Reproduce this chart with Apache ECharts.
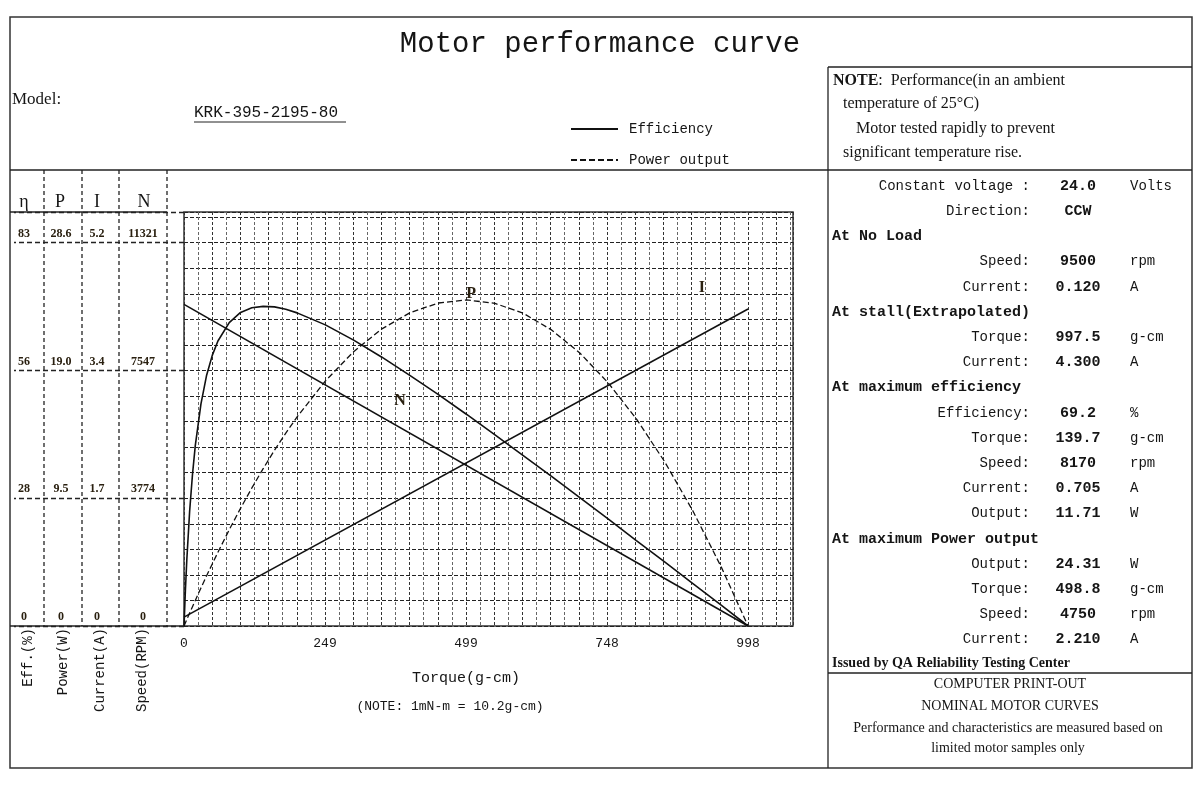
<!DOCTYPE html>
<html>
<head>
<meta charset="utf-8">
<title>Motor performance curve</title>
<script src="https://cdn.jsdelivr.net/npm/echarts@6/dist/echarts.min.js"></script>
<style>
html, body { margin: 0; padding: 0; background: #fff; }
#chart { width: 1200px; height: 791px; }
</style>
</head>
<body>
<div id="chart"></div>
<script>
// torque (g-cm) on x
const torque = [0, 2.5, 5, 10, 15, 20, 30, 40, 50, 60, 80, 100, 120, 140, 160, 180, 200, 250, 300, 350, 400, 450, 500, 550, 600, 650, 700, 750, 800, 850, 900, 950, 997.5];
const efficiency = [0, 7.8, 14.4, 24.9, 32.8, 39.1, 48.1, 54.3, 58.6, 61.7, 65.7, 67.9, 68.9, 69.2, 69.1, 68.6, 67.8, 65.2, 61.9, 58.2, 54.2, 50.1, 45.8, 41.4, 36.9, 32.4, 27.8, 23.2, 18.5, 13.9, 9.2, 4.5, 0];
const powerOut = [0, 0.24, 0.49, 0.97, 1.44, 1.91, 2.84, 3.75, 4.63, 5.50, 7.18, 8.78, 10.30, 11.74, 13.11, 14.39, 15.60, 18.28, 20.47, 22.17, 23.38, 24.10, 24.33, 24.07, 23.33, 22.09, 20.37, 18.15, 15.45, 12.26, 8.58, 4.41, 0];
const speedTorque = [0, 997.5];
const speedRpm = [9500, 0];
const currentTorque = [0, 997.5];
const currentAmp = [0.12, 4.3];

// axis tick labels
const xTickLabels = ['0', '249', '499', '748', '998'];
const effTicks = ['0', '28', '56', '83'];
const powerTicks = ['0', '9.5', '19.0', '28.6'];
const currentTicks = ['0', '1.7', '3.4', '5.2'];
const speedTicks = ['0', '3774', '7547', '11321'];
const effTop = 83, powerTop = 28.6, currentTop = 5.2, speedTop = 11321;
const xStep = 997.5 / 40;

// spec table on the right
const specRows = [
	['Constant voltage :', '24.0', 'Volts'],
	['Direction:', 'CCW', ''],
	['At No Load'],
	['Speed:', '9500', 'rpm'],
	['Current:', '0.120', 'A'],
	['At stall(Extrapolated)'],
	['Torque:', '997.5', 'g-cm'],
	['Current:', '4.300', 'A'],
	['At maximum efficiency'],
	['Efficiency:', '69.2', '%'],
	['Torque:', '139.7', 'g-cm'],
	['Speed:', '8170', 'rpm'],
	['Current:', '0.705', 'A'],
	['Output:', '11.71', 'W'],
	['At maximum Power output'],
	['Output:', '24.31', 'W'],
	['Torque:', '498.8', 'g-cm'],
	['Speed:', '4750', 'rpm'],
	['Current:', '2.210', 'A']
];

const MONO = '"Liberation Mono", monospace';
const SERIF = '"Liberation Serif", serif';
const INK = '#151515';

// grid height covers 16.2 cells, top tick label sits at 15 cells
const topScale = 16.2 / 15;

function labelAxis(top, ticks, margin, extra) {
	return Object.assign({
		type: 'value',
		position: 'left',
		min: 0,
		max: top * topScale,
		interval: top / 3,
		axisLine: { show: false },
		axisTick: { show: false },
		splitLine: { show: false },
		axisLabel: {
			formatter: (v, i) => ticks[i] || '',
			align: 'center',
			verticalAlign: 'bottom',
			margin: margin,
			padding: [0, 0, 3, 0],
			fontFamily: SERIF,
			fontWeight: 'bold',
			fontSize: 12,
			color: '#2a2010'
		}
	}, extra || {});
}

function line(x1, y1, x2, y2, dash, w) {
	return {
		type: 'line', silent: true, z: 10,
		shape: { x1: x1, y1: y1, x2: x2, y2: y2 },
		style: { stroke: '#222', lineWidth: w || 1.3, lineDash: dash || null }
	};
}
function text(x, y, str, font, align, extra) {
	return Object.assign({
		type: 'text', silent: true, z: 10, x: x, y: y,
		style: { text: str, font: font, fill: INK, align: align || 'left', verticalAlign: 'middle' }
	}, extra || {});
}

let graphics = [
	{ type: 'rect', silent: true, z: 10, shape: { x: 10, y: 17, width: 1182, height: 751 }, style: { fill: 'none', stroke: '#333', lineWidth: 1.5 } },
	line(828, 67, 1192, 67),
	line(828, 67, 828, 768),
	line(10, 170, 1192, 170),
	line(828, 673, 1192, 673),
	line(10, 212, 167, 212),
	line(10, 626, 184, 626),
	line(44, 170, 44, 626, [4, 3]),
	line(82, 170, 82, 626, [4, 3]),
	line(119, 170, 119, 626, [4, 3]),
	line(167, 170, 167, 626, [4, 3]),
	text(12, 100, 'Model:', '17px ' + SERIF),
	text(194, 113, 'KRK-395-2195-80', '16px ' + MONO),
	line(194, 122, 346, 122, null, 1),
	text(24, 202, 'η', '18px ' + SERIF, 'center'),
	text(60, 202, 'P', '18px ' + SERIF, 'center'),
	text(97, 202, 'I', '18px ' + SERIF, 'center'),
	text(144, 202, 'N', '18px ' + SERIF, 'center'),
	text(833, 81, '', '16px ' + SERIF, 'left', {
		style: { text: '{b|NOTE}:  Performance(in an ambient', font: '16px ' + SERIF, fill: INK, verticalAlign: 'middle',
			rich: { b: { font: 'bold 16px ' + SERIF, fill: INK } } }
	}),
	text(843, 104, 'temperature of 25°C)', '16px ' + SERIF),
	text(856, 129, 'Motor tested rapidly to prevent', '16px ' + SERIF),
	text(843, 153, 'significant temperature rise.', '16px ' + SERIF),
	text(466, 678, 'Torque(g-cm)', '15px ' + MONO, 'center'),
	text(450, 707, '(NOTE: 1mN-m = 10.2g-cm)', '13px ' + MONO, 'center'),
	text(832, 663, 'Issued by QA Reliability Testing Center', 'bold 14px ' + SERIF),
	text(1010, 684, 'COMPUTER PRINT-OUT', '14px ' + SERIF, 'center'),
	text(1010, 706, 'NOMINAL MOTOR CURVES', '14px ' + SERIF, 'center'),
	text(1008, 728, 'Performance and characteristics are measured based on', '14px ' + SERIF, 'center'),
	text(1008, 748, 'limited motor samples only', '14px ' + SERIF, 'center')
];

// rotated unit names under the left columns
[['Eff.(%)', 28], ['Power(W)', 63], ['Current(A)', 100], ['Speed(RPM)', 142]].forEach(item => {
	graphics.push(text(item[1], 628, item[0], '14px ' + MONO, 'right', { rotation: Math.PI / 2 }));
});

specRows.forEach((row, i) => {
	const y = 186 + i * 25.2;
	if (row.length === 1) {
		graphics.push(text(832, y, row[0], 'bold 15px ' + MONO));
		return;
	}
	graphics.push(text(1030, y, row[0], '14px ' + MONO, 'right'));
	graphics.push(text(1078, y, row[1], 'bold 15px ' + MONO, 'center'));
	if (row[2]) graphics.push(text(1130, y, row[2], '14px ' + MONO));
});

const tagLabel = name => ({
	show: true, formatter: name, color: '#2a2010',
	fontFamily: SERIF, fontWeight: 'bold', fontSize: 16
});

const option = {
	animation: false,
	backgroundColor: '#fff',
	color: ['#111'],
	title: {
		text: 'Motor performance curve',
		left: 'center',
		top: 25,
		textStyle: { fontFamily: MONO, fontSize: 29, fontWeight: 'normal', color: INK }
	},
	legend: {
		data: ['Efficiency', 'Power output'],
		orient: 'vertical',
		left: 565,
		top: 117,
		itemWidth: 47,
		itemHeight: 14,
		itemGap: 17,
		selectedMode: false,
		itemStyle: { opacity: 0 },
		textStyle: { fontFamily: MONO, fontSize: 14, color: INK, padding: [0, 0, 0, 6] }
	},
	grid: {
		left: 184, top: 212, width: 609, height: 414,
		show: true, borderColor: '#333', borderWidth: 1.5
	},
	xAxis: {
		type: 'value',
		min: 0,
		max: 1077,
		interval: xStep,
		axisLine: { show: false },
		axisTick: { show: false },
		splitLine: { show: true, lineStyle: { color: ['#333', '#666'], type: [3, 2], width: 1 } },
		axisLabel: {
			formatter: (v, i) => (i % 10 === 0 && xTickLabels[i / 10]) || '',
			margin: 11,
			fontFamily: MONO,
			fontSize: 13,
			color: INK
		}
	},
	yAxis: [
		labelAxis(effTop, effTicks, 160, {
			axisTick: { show: true, length: 170, lineStyle: { color: '#222', type: [5, 3], width: 1.3 } }
		}),
		labelAxis(powerTop, powerTicks, 123),
		labelAxis(currentTop, currentTicks, 87),
		labelAxis(speedTop, speedTicks, 41),
		{
			// horizontal cell grid
			type: 'value', position: 'left', min: 0, max: 16.2, interval: 1,
			axisLine: { show: false }, axisTick: { show: false }, axisLabel: { show: false },
			splitLine: { show: true, lineStyle: { color: '#222', type: [4, 2], width: 1 } }
		}
	],
	series: [
		{
			name: 'Efficiency', type: 'line', yAxisIndex: 0,
			data: torque.map((t, i) => [t, efficiency[i]]),
			symbol: 'none',
			lineStyle: { color: '#111', width: 1.6 }, z: 5
		},
		{
			name: 'Power output', type: 'line', yAxisIndex: 1,
			data: torque.map((t, i) => [t, powerOut[i]]),
			symbol: 'none',
			lineStyle: { color: '#111', width: 1.3, type: [6, 3] }, z: 5,
			markPoint: { silent: true, symbol: 'circle', symbolSize: 0, label: tagLabel('P'), data: [{ coord: [508, 24.8] }] }
		},
		{
			name: 'Speed', type: 'line', yAxisIndex: 3,
			data: speedTorque.map((t, i) => [t, speedRpm[i]]),
			symbol: 'none',
			lineStyle: { color: '#111', width: 1.6 }, z: 5,
			markPoint: { silent: true, symbol: 'circle', symbolSize: 0, label: tagLabel('N'), data: [{ coord: [382, 6646] }] }
		},
		{
			name: 'Current', type: 'line', yAxisIndex: 2,
			data: currentTorque.map((t, i) => [t, currentAmp[i]]),
			symbol: 'none',
			lineStyle: { color: '#111', width: 1.6 }, z: 5,
			markPoint: { silent: true, symbol: 'circle', symbolSize: 0, label: tagLabel('I'), data: [{ coord: [916, 4.59] }] }
		}
	],
	graphic: graphics
};

const myChart = echarts.init(document.getElementById('chart'));
myChart.setOption(option);
</script>
</body>
</html>
